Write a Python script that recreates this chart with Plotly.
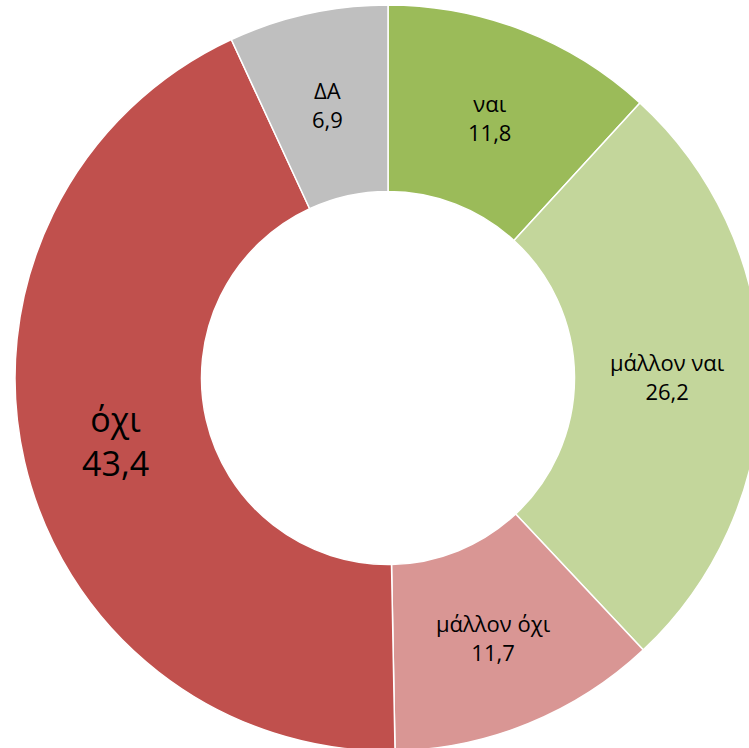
import math

import plotly.graph_objects as go

labels = ["ναι", "μάλλον ναι", "μάλλον όχι", "όχι", "ΔΑ"]
values = [11.8, 26.2, 11.7, 43.4, 6.9]
colors = ["#9BBB59", "#C3D69B", "#D99694", "#C0504D", "#BFBFBF"]
text_sizes = [22, 22, 22, 34, 22]

HOLE = 0.5

fig = go.Figure(
    go.Pie(
        labels=labels,
        values=values,
        textinfo="none",
        hole=HOLE,
        sort=False,
        direction="clockwise",
        rotation=0,
        marker={"colors": colors, "line": {"color": "white", "width": 1.5}},
        showlegend=False,
        hoverinfo="label+value",
    )
)

# data labels sit in the middle of the ring, at each slice's mid angle
total = sum(values)
ring_r = 0.5 * (1 + HOLE) / 2
cum = 0.0
for lab, val, size in zip(labels, values, text_sizes):
    mid = (cum + val / 2) / total * 2 * math.pi
    cum += val
    fig.add_annotation(
        x=0.5 + ring_r * math.sin(mid),
        y=0.5 + ring_r * math.cos(mid),
        xref="paper",
        yref="paper",
        text=f"{lab}<br>{str(val).replace('.', ',')}",
        showarrow=False,
        xanchor="center",
        yanchor="middle",
        font={"family": "Open Sans", "size": size, "color": "#000000"},
    )

# the chart is larger than the viewport and gets clipped on the right/bottom
fig.update_layout(
    width=776,
    height=756,
    margin={"l": 15, "r": 15, "t": 5, "b": 5},
    paper_bgcolor="white",
)

fig.write_html(
    "out.html",
    config={"displayModeBar": False},
    post_script="document.body.style.margin='0';document.body.style.overflow='hidden';",
)
